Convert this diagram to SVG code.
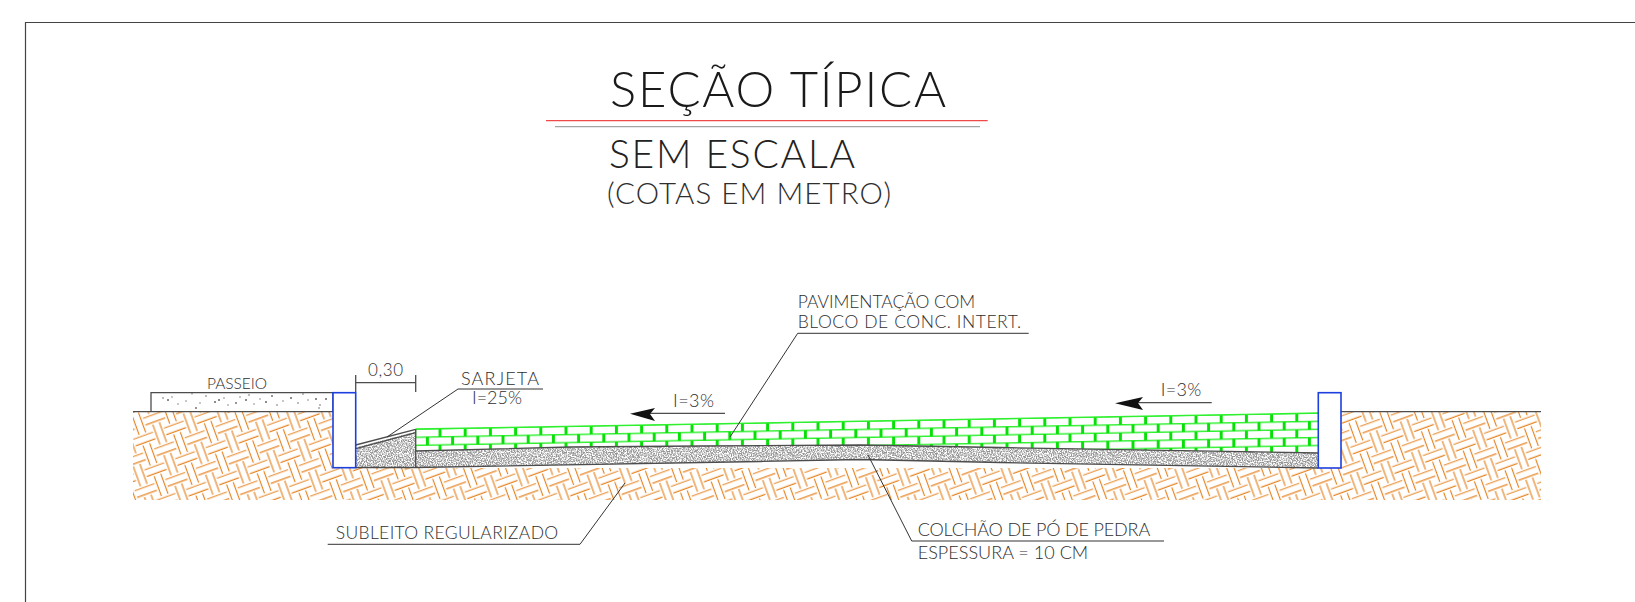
<svg xmlns="http://www.w3.org/2000/svg" width="1635" height="602" viewBox="0 0 1635 602">
<style>
text{font-family:"Lato","Liberation Sans",sans-serif;font-weight:300;fill:#2e2e2e;font-size:17px}
.l{fill:none;stroke:#4d4d4d;stroke-width:1.3}
.lead{fill:none;stroke:#333;stroke-width:1}
.curb{fill:#fff;stroke:#1c3fe0;stroke-width:1.6}
.head{fill:#111;stroke:none}
</style>
<defs>
<pattern id="weave" width="32.6" height="32.6" patternUnits="userSpaceOnUse" patternTransform="translate(136,416) rotate(-20)">
<path fill="none" stroke="#e5821f" stroke-width="1.15" d="M5.8 4.65H26.8M5.8 11.65H26.8M0 20.95H10.5M22.1 20.95H32.6M0 27.95H10.5M22.1 27.95H32.6M29.1 0V18.65M29.1 30.25V32.6M3.5 0V18.65M3.5 30.25V32.6M12.8 13.95V32.6M12.8 0V2.35M19.8 13.95V32.6M19.8 0V2.35"/>
</pattern>
<pattern id="brick" width="25.2" height="16.2" patternUnits="userSpaceOnUse" patternTransform="translate(433.7,424.8) skewY(-1.015)">
<path fill="none" stroke="#2ef02e" stroke-width="1.3" d="M0 4H25.2M0 12.1H25.2"/>
<path fill="none" stroke="#08df08" stroke-width="3" d="M6.3 4V12.1M18.9 12.1V16.2M18.9 0V4"/>
</pattern>
<filter id="grain" x="0" y="0" width="1" height="1">
<feTurbulence type="fractalNoise" baseFrequency="0.8" numOctaves="2" seed="4"/>
<feColorMatrix type="matrix" values="0 0 0 0 0.3 0 0 0 0 0.3 0 0 0 0 0.3 2.6 2.6 0 0 -2.1"/>
</filter>
<clipPath id="gravelClip"><path d="M355.7 447.5L415.7 431.5V451L570 447L700 446L860 445L1000 447.5L1318 453V468L1000 462.5L860 459.5L760 461.5L415.7 467.5H355.7Z"/></clipPath>
<clipPath id="walkClip"><rect x="151" y="392.7" width="182" height="19"/></clipPath>
</defs>
<rect width="1635" height="602" fill="#fff"/>
<path id="frame" d="M25.5 602V22.5H1635" fill="none" stroke="#444" stroke-width="1.2"/>

<g id="title">
<text x="610" y="107" style="font-size:49px;fill:#1a1a1a" textLength="336" lengthAdjust="spacing">SEÇÃO TÍPICA</text>
<path d="M546 120.7H987.7" stroke="#ef4a4a" stroke-width="1.2" fill="none"/>
<path d="M555 126.7H980" stroke="#a5a5a5" stroke-width="1.2" fill="none"/>
<text x="609" y="168" style="font-size:39px;fill:#222" textLength="246" lengthAdjust="spacing">SEM ESCALA</text>
<text x="607" y="204" style="font-size:29.5px" textLength="284" lengthAdjust="spacing">(COTAS EM METRO)</text>
</g>

<g id="subleito">
<path d="M133 411.7H333V468H1318V411.7H1541V500H133Z" fill="url(#weave)"/>
<path d="M133 411.7H333M1341 411.7H1541" class="l"/>
</g>

<g id="passeio">
<path d="M151 411.7V392.7H333V411.7" class="l" fill="#fff"/>
<g fill="#666" clip-path="url(#walkClip)">
<circle cx="163" cy="398" r=".8"/><circle cx="168" cy="400" r="1"/><circle cx="172" cy="397" r=".7"/><circle cx="178" cy="404" r=".7"/><circle cx="186" cy="401" r=".7"/><circle cx="192" cy="393.8" r=".7"/><circle cx="196" cy="408" r=".9"/><circle cx="200" cy="403" r=".7"/><circle cx="206" cy="396" r=".8"/><circle cx="215" cy="402" r="1"/><circle cx="219" cy="400" r="1"/><circle cx="224" cy="398" r=".7"/><circle cx="228" cy="405" r=".7"/><circle cx="236" cy="403" r=".9"/><circle cx="240" cy="397" r=".7"/><circle cx="246" cy="400" r="1"/><circle cx="249" cy="395" r=".8"/><circle cx="254" cy="404" r=".7"/><circle cx="260" cy="399" r=".7"/><circle cx="266" cy="402" r="1"/><circle cx="272" cy="396" r=".9"/><circle cx="277" cy="405" r=".8"/><circle cx="283" cy="401" r=".7"/><circle cx="291" cy="398" r="1"/><circle cx="298" cy="403" r=".8"/><circle cx="303" cy="394" r=".8"/><circle cx="308" cy="400" r=".7"/><circle cx="316" cy="399" r="1"/><circle cx="320" cy="405" r=".8"/><circle cx="326" cy="399" r="1"/><circle cx="319" cy="408" r=".8"/>
</g>
</g>

<g id="pavimento">
<path d="M415.7 429L1318 413V453L1000 447.5L860 445L700 446L570 447L415.7 451Z" fill="url(#brick)"/>
<path d="M415.7 429L1318 413" fill="none" stroke="#2ef02e" stroke-width="1.3"/>
</g>

<g id="colchao">
<rect x="355" y="429" width="964" height="40" filter="url(#grain)" clip-path="url(#gravelClip)"/>
<path d="M415.7 451L570 447L700 446L860 445L1000 447.5L1318 453" class="l"/>
<path d="M355.7 467.5H415.7L760 461.5L860 459.5L1000 462.5L1318 468" class="l"/>
</g>

<g id="sarjeta">
<path d="M355.7 445L415.7 429.3M355.7 448.7L415.7 432.7M415.7 429.3V467.5" class="l"/>
</g>

<g id="meio-fio-esq"><rect class="curb" x="333" y="392.7" width="22.7" height="75"/></g>
<g id="meio-fio-dir"><rect class="curb" x="1318.3" y="392.7" width="22.7" height="75.3"/></g>

<g id="connectors">
<path class="lead" d="M387 437L458 389H543"/>
<path class="lead" d="M730 437L797.7 333.3H1028.7"/>
<path class="lead" d="M625 483L580 544.3H327.7"/>
<path class="lead" d="M868 455L911.7 541H1164"/>
<path class="l" d="M355.7 375V392M415.7 375V392M355.7 382.7H415.7"/>
<path class="l" d="M650 413.3H725"/>
<path class="head" d="M630 413.8L655 408L650 414L655 421Z"/>
<path class="l" d="M1138 402.7H1211.7"/>
<path class="head" d="M1115 403.2L1143 397L1138 403L1143 410Z"/>
</g>

<g id="labels">
<text x="207" y="388.7" style="font-size:15.5px" textLength="60" lengthAdjust="spacing">PASSEIO</text>
<text x="368" y="376" textLength="35" lengthAdjust="spacing">0,30</text>
<text x="461" y="385" style="font-size:18px" textLength="78" lengthAdjust="spacing">SARJETA</text>
<text x="472" y="404" style="font-size:18px" textLength="50" lengthAdjust="spacing">I=25%</text>
<text x="673" y="407" style="font-size:18px" textLength="41" lengthAdjust="spacing">I=3%</text>
<text x="1160.7" y="395.7" style="font-size:18px" textLength="40.5" lengthAdjust="spacing">I=3%</text>
<text x="797.7" y="308.3" style="font-size:17.5px" textLength="177.5" lengthAdjust="spacing">PAVIMENTAÇÃO COM</text>
<text x="797.7" y="328" style="font-size:17.5px" textLength="223.5" lengthAdjust="spacing">BLOCO DE CONC. INTERT.</text>
<text x="335.7" y="539.3" style="font-size:17.5px" textLength="222.5" lengthAdjust="spacing">SUBLEITO REGULARIZADO</text>
<text x="917.7" y="535.7" style="font-size:18px" textLength="232.5" lengthAdjust="spacing">COLCHÃO DE PÓ DE PEDRA</text>
<text x="917.7" y="559.3" style="font-size:18px" textLength="170.5" lengthAdjust="spacing">ESPESSURA = 10 CM</text>
</g>
</svg>
